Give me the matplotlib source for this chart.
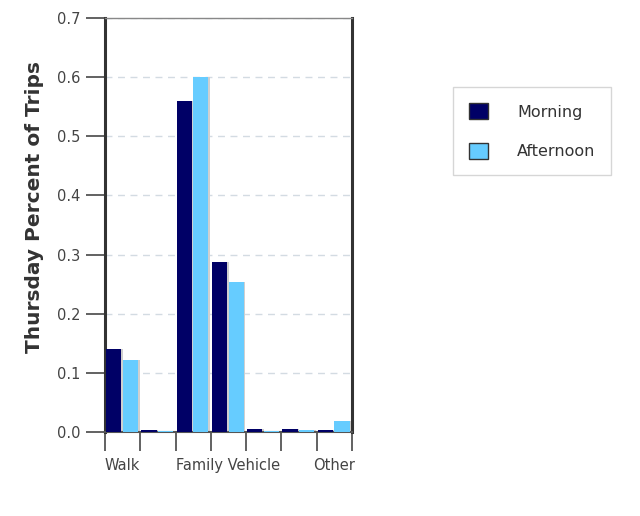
import matplotlib
matplotlib.use("Agg")
import matplotlib.pyplot as plt
import numpy as np
from matplotlib.patches import Patch

categories = ["Walk", "Bike", "School Bus", "Family Vehicle", "Carpool", "Transit", "Other"]
shown_labels = ["Walk", "", "", "Family Vehicle", "", "", "Other"]
morning = [0.140, 0.003, 0.560, 0.287, 0.005, 0.005, 0.003]
afternoon = [0.121, 0.002, 0.600, 0.253, 0.002, 0.004, 0.019]
yticks = [0.0, 0.1, 0.2, 0.3, 0.4, 0.5, 0.6, 0.7]

c_morning = "#000066"
c_afternoon = "#66ccff"
c_shadow = "#cfcfcf"
tick_col = "#444444"

fig = plt.figure(figsize=(6.4, 5.16), dpi=100)
ax = fig.add_axes([105/640, 1-432/516, (352-105)/640, (432-18)/516])

x = np.arange(len(categories))
bw = 0.43
off_m = 0.03
off_a = 0.50
sh = 0.05
ax.bar(x + off_m + sh, morning, width=bw, align="edge", color=c_shadow, zorder=2, linewidth=0)
ax.bar(x + off_a + sh, afternoon, width=bw, align="edge", color=c_shadow, zorder=2, linewidth=0)
ax.bar(x + off_m, morning, width=bw, align="edge", color=c_morning, zorder=3, linewidth=0)
ax.bar(x + off_a, afternoon, width=bw, align="edge", color=c_afternoon, zorder=3, linewidth=0)

ax.set_xlim(0, len(categories))
ax.set_ylim(0, 0.7)
ax.set_yticks(yticks)
ax.set_yticklabels([f"{v:.1f}" for v in yticks])
ax.yaxis.grid(True, linestyle=(0, (5, 4)), color="#d3dbe2", linewidth=1.0, zorder=1)
ax.set_axisbelow(True)

ax.set_xticks(np.arange(len(categories) + 1))
ax.set_xticklabels([])
ax.set_xticks(x + 0.5, minor=True)
ax.set_xticklabels(shown_labels, minor=True)
ax.tick_params(axis="x", which="major", length=14, width=1.3, color="#555555", direction="out")
ax.tick_params(axis="x", which="minor", length=0, pad=19, labelsize=10.5, labelcolor=tick_col)
ax.tick_params(axis="y", which="major", length=14, width=1.3, color="#555555", direction="out",
               labelsize=10.5, labelcolor=tick_col, pad=4)

for side in ["left", "right"]:
    ax.spines[side].set_color("#333333")
    ax.spines[side].set_linewidth(2.2)
ax.spines["bottom"].set_color("#555555")
ax.spines["bottom"].set_linewidth(1.5)
ax.spines["top"].set_color("#888888")
ax.spines["top"].set_linewidth(1.0)

ax.set_ylabel("Thursday Percent of Trips", fontsize=14.5, fontweight="bold", color="#333333")
ax.yaxis.set_label_coords(-(105 - 44) / 247, (432 - 207) / 414)

handles = [Patch(facecolor=c_morning, edgecolor="#333333", linewidth=1.0, label="Morning"),
           Patch(facecolor=c_afternoon, edgecolor="#333333", linewidth=1.0, label="Afternoon")]
leg = fig.legend(handles=handles, loc="upper left", bbox_to_anchor=(453/640, 1-87/516),
                 bbox_transform=fig.transFigure, frameon=True, fancybox=False,
                 fontsize=11.5, borderpad=1.0, labelspacing=1.45, handlelength=1.2,
                 handleheight=1.2, handletextpad=1.8, borderaxespad=0)
leg.get_frame().set_edgecolor("#cccccc")
leg.get_frame().set_linewidth(1.0)
for t in leg.get_texts():
    t.set_color("#333333")

fig.savefig("out.png", dpi=100)
